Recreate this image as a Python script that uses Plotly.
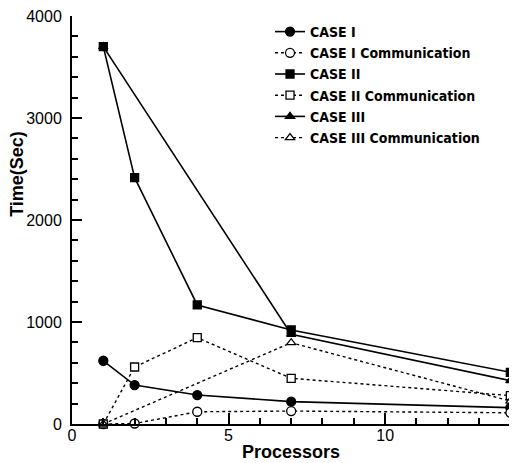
import plotly.graph_objects as go

# Data
x_case1 = [1, 2, 4, 7, 14]
case1 = [620, 382, 284, 219, 160]
case1_comm = [0, 5, 120, 127, 110]

x_case2 = [1, 2, 4, 7, 14]
case2 = [3700, 2415, 1167, 922, 507]
case2_comm = [0, 559, 846, 448, 278]

x_case3 = [1, 7, 14]
case3 = [3700, 880, 425]
case3_comm = [0, 797, 225]

names = ["CASE I", "CASE I Communication", "CASE II", "CASE II Communication",
         "CASE III", "CASE III Communication"]

x_ticks = [0, 5, 10]
y_ticks = [0, 1000, 2000, 3000, 4000]

FONT = "Liberation Sans, Arial, sans-serif"
LEGEND_FONT = "DejaVu Sans Condensed, Liberation Sans, sans-serif"

fig = go.Figure()

def add(name, xs, ys, symbol, filled, dash, size):
    fig.add_trace(go.Scatter(
        x=xs, y=ys, name=name, mode="lines+markers",
        line=dict(color="black", width=1.6 if dash == "solid" else 1.4, dash=dash),
        marker=dict(symbol=symbol, size=size,
                    color="black" if filled else "white",
                    line=dict(color="black", width=1.3)),
        cliponaxis=False,
    ))

add(names[0], x_case1, case1, "circle", True, "solid", 9)
add(names[1], x_case1, case1_comm, "circle", False, "dot", 9)
add(names[2], x_case2, case2, "square", True, "solid", 8)
add(names[3], x_case2, case2_comm, "square", False, "dot", 8)
add(names[4], x_case3, case3, "triangle-up", True, "solid", 8)
add(names[5], x_case3, case3_comm, "triangle-up", False, "dot", 8)

# The page body adds an 8px margin, so the figure is 8px smaller each way.
fig.update_layout(
    width=509, height=455,
    margin=dict(l=64, r=1, t=8, b=39, autoexpand=False),
    paper_bgcolor="white", plot_bgcolor="white",
    font=dict(family=FONT, color="black"),
    showlegend=True,
    legend=dict(x=0.446, y=1.0, xanchor="left", yanchor="top",
                bgcolor="rgba(0,0,0,0)", tracegroupgap=0, itemwidth=30,
                font=dict(size=14, family=LEGEND_FONT, weight="bold")),
    xaxis=dict(range=[0, 14.18], showgrid=False, zeroline=False, automargin=False,
               showline=True, linecolor="black", linewidth=2,
               tickvals=x_ticks, ticks="inside", ticklen=11, tickwidth=2,
               tickcolor="black", ticklabeloverflow="allow",
               minor=dict(dtick=1, ticks="inside", ticklen=6, tickwidth=1.5,
                          tickcolor="black", showgrid=False),
               tickfont=dict(size=16), ticklabelstandoff=-4),
    yaxis=dict(range=[0, 4000], showgrid=False, zeroline=False, automargin=False,
               showline=True, linecolor="black", linewidth=2,
               tickvals=y_ticks, ticks="inside", ticklen=10, tickwidth=2,
               tickcolor="black", ticklabeloverflow="allow",
               minor=dict(dtick=200, ticks="inside", ticklen=6, tickwidth=1.5,
                          tickcolor="black", showgrid=False),
               tickfont=dict(size=16), ticklabelstandoff=5),
    annotations=[
        dict(text="Time(Sec)", xref="paper", yref="paper",
             x=-0.124, y=0.613, xanchor="center", yanchor="middle",
             textangle=-90, showarrow=False,
             font=dict(size=18, weight="bold", family=FONT)),
        dict(text="Processors", xref="paper", yref="paper",
             x=0.493, y=-0.0686, xanchor="center", yanchor="middle",
             showarrow=False, font=dict(size=18, weight="bold", family=FONT)),
    ],
)

fig.write_html("out.html")
